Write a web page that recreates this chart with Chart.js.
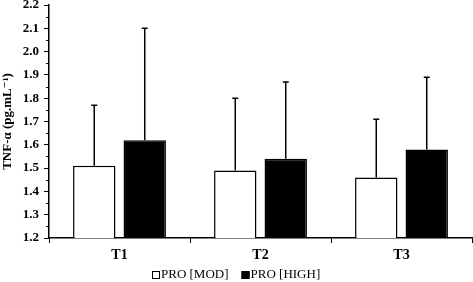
<!DOCTYPE html>
<html>
<head>
<meta charset="utf-8">
<script src="https://cdn.jsdelivr.net/npm/chart.js@4"></script>
<style>
  html, body { margin: 0; padding: 0; background: #fff; }
  #wrap { width: 473px; height: 282px; }
</style>
</head>
<body>
<div id="wrap"><canvas id="c"></canvas></div>
<script>
const labels = ['T1', 'T2', 'T3'];
const modValues = [1.51, 1.49, 1.46];
const modErr = [0.26, 0.31, 0.25];
const highValues = [1.62, 1.54, 1.58];
const highErr = [0.48, 0.33, 0.31];
const yTicks = [1.2, 1.3, 1.4, 1.5, 1.6, 1.7, 1.8, 1.9, 2.0, 2.1, 2.2];

const serif = '"Liberation Serif", "DejaVu Serif", serif';

// upward error bars with caps
const errorBars = {
    id: 'errorBars',
    afterDatasetsDraw(chart) {
        const ctx = chart.ctx;
        const y = chart.scales.y;
        ctx.save();
        ctx.strokeStyle = '#000';
        ctx.lineWidth = 1.5;
        chart.data.datasets.forEach((ds, i) => {
            const meta = chart.getDatasetMeta(i);
            meta.data.forEach((bar, j) => {
                const top = y.getPixelForValue(ds.data[j] + ds.errors[j]);
                ctx.beginPath();
                ctx.moveTo(bar.x, bar.y);
                ctx.lineTo(bar.x, top);
                ctx.moveTo(bar.x - 3, top);
                ctx.lineTo(bar.x + 3, top);
                ctx.stroke();
            });
        });
        ctx.restore();
    }
};

// short minor ticks half way between the labelled ones
const minorTicks = {
    id: 'minorTicks',
    afterDraw(chart) {
        const ctx = chart.ctx;
        const y = chart.scales.y;
        ctx.save();
        ctx.strokeStyle = '#000';
        ctx.lineWidth = 1;
        for (let i = 0; i < yTicks.length - 1; i++) {
            const py = Math.round(y.getPixelForValue((yTicks[i] + yTicks[i + 1]) / 2)) + 0.5;
            ctx.beginPath();
            ctx.moveTo(y.right - 3, py);
            ctx.lineTo(y.right, py);
            ctx.stroke();
        }
        ctx.restore();
    }
};

// legend: square box right against its text
const boxLegend = {
    id: 'boxLegend',
    afterDraw(chart) {
        const ctx = chart.ctx;
        ctx.save();
        ctx.font = '13px ' + serif;
        ctx.textBaseline = 'middle';
        const items = chart.data.datasets.map(ds => ({
            text: ds.label, fill: ds.backgroundColor, w: 8 + 1 + ctx.measureText(ds.label).width
        }));
        const gap = 13;
        const total = items.reduce((s, it) => s + it.w, 0) + gap * (items.length - 1);
        let x = Math.round(chart.width / 2 - total / 2);
        const cy = 275;
        items.forEach(it => {
            ctx.fillStyle = it.fill;
            ctx.fillRect(x, cy - 4, 8, 8);
            ctx.strokeStyle = '#000';
            ctx.lineWidth = 1;
            ctx.strokeRect(x + 0.5, cy - 3.5, 7, 7);
            ctx.fillStyle = '#000';
            ctx.fillText(it.text, x + 9, cy);
            x += it.w + gap;
        });
        ctx.restore();
    }
};

new Chart(document.getElementById('c'), {
    type: 'bar',
    data: {
        labels: labels,
        datasets: [
            {
                label: 'PRO [MOD]',
                data: modValues,
                errors: modErr,
                backgroundColor: '#fff',
                borderColor: '#000',
                borderWidth: 1.5,
                categoryPercentage: 0.716,
                barPercentage: 0.84
            },
            {
                label: 'PRO [HIGH]',
                data: highValues,
                errors: highErr,
                backgroundColor: '#000',
                borderColor: '#000',
                borderWidth: 1.5,
                categoryPercentage: 0.716,
                barPercentage: 0.84
            }
        ]
    },
    options: {
        responsive: true,
        maintainAspectRatio: false,
        animation: false,
        layout: { padding: { top: 5, right: 1, left: 0, bottom: 22 } },
        scales: {
            x: {
                grid: {
                    display: true,
                    offset: true,
                    drawOnChartArea: false,
                    drawTicks: true,
                    tickLength: 5,
                    color: '#000'
                },
                border: { color: '#000', width: 1.5 },
                ticks: {
                    color: '#000',
                    font: { family: serif, size: 14, weight: 'bold' },
                    padding: 4
                },
                afterFit(scale) { scale.height = 22; }
            },
            y: {
                min: 1.2,
                max: 2.2,
                grid: {
                    display: true,
                    drawOnChartArea: false,
                    drawTicks: true,
                    tickLength: 5,
                    color: '#000'
                },
                border: { color: '#000', width: 1.5 },
                ticks: {
                    stepSize: 0.1,
                    autoSkip: false,
                    color: '#000',
                    font: { family: serif, size: 13, weight: 'bold' },
                    padding: 5,
                    callback: function (v) {
                        return v.toFixed(1);
                    }
                },
                title: {
                    display: true,
                    text: 'TNF-α (pg.mL⁻¹)',
                    color: '#000',
                    font: { family: serif, size: 13, weight: 'bold' },
                    padding: { top: 0, bottom: 0 }
                },
                afterFit(scale) {
                    scale.width = 49;
                    scale.paddingTop = 0;
                    scale.paddingBottom = 0;
                }
            }
        },
        plugins: {
            legend: { display: false },
            tooltip: { enabled: false }
        }
    },
    plugins: [errorBars, minorTicks, boxLegend]
});
</script>
</body>
</html>
